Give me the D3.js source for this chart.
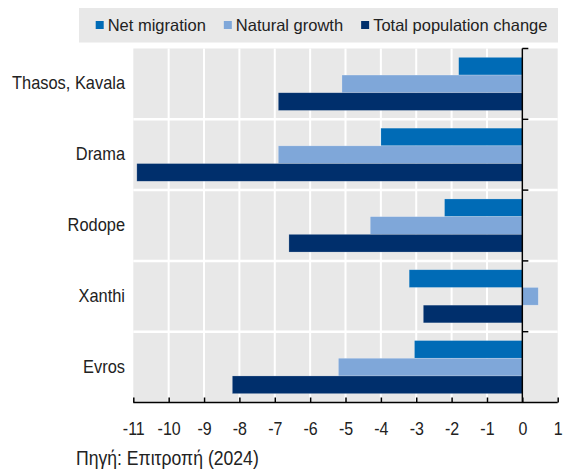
<!DOCTYPE html>
<html>
<head>
<meta charset="utf-8">
<script src="https://cdn.jsdelivr.net/npm/d3@7"></script>
<style>
  body { margin: 0; background: #fff; }
  svg text { fill: #222; font-family: "Liberation Sans", Arial, sans-serif; }
</style>
</head>
<body>
<svg id="chart" width="563" height="471"></svg>
<script>
// Data
const regions = ['Thasos, Kavala', 'Drama', 'Rodope', 'Xanthi', 'Evros'];
const seriesNames = ['Net migration', 'Natural growth', 'Total population change'];
const netMigration = [-1.8, -4.0, -2.2, -3.2, -3.05];
const naturalGrowth = [-5.1, -6.9, -4.3, 0.45, -5.2];
const totalChange = [-6.9, -10.9, -6.6, -2.8, -8.2];
const xTicks = [-11, -10, -9, -8, -7, -6, -5, -4, -3, -2, -1, 0, 1];
const sourceNote = 'Πηγή: Επιτροπή (2024)';

const colors = ['#006bb6', '#7fa7d9', '#002f6c'];
const stretch = 1.15; // labels in the reference are taller than wide

const rows = regions.map((r, i) => ({
  region: r,
  values: [netMigration[i], naturalGrowth[i], totalChange[i]]
}));

const svg = d3.select('#chart');

// Scales
const x = d3.scaleLinear().domain([-11, 1]).range([133.3, 557.7]);
const y0 = d3.scaleBand().domain(regions).range([48.5, 402.5]).padding(0);
const y1 = d3.scaleBand().domain(d3.range(seriesNames.length))
  .range([0, y0.bandwidth()]).paddingInner(0).paddingOuter(0.5);

// Plot background
svg.append('rect')
  .attr('x', x(-11)).attr('y', y0.range()[0])
  .attr('width', x(1) - x(-11)).attr('height', y0.range()[1] - y0.range()[0])
  .attr('fill', '#e8e8e8');

// Grid lines
svg.append('g')
  .selectAll('line')
  .data(xTicks.slice(1, -1))
  .join('line')
    .attr('x1', d => x(d)).attr('x2', d => x(d))
    .attr('y1', y0.range()[0]).attr('y2', y0.range()[1])
    .attr('stroke', '#fff').attr('stroke-width', 2);
svg.append('g')
  .selectAll('line')
  .data(regions.slice(1))
  .join('line')
    .attr('x1', x(-11)).attr('x2', x(1))
    .attr('y1', d => y0(d)).attr('y2', d => y0(d))
    .attr('stroke', '#fff').attr('stroke-width', 2.5);

// Bars
const groups = svg.append('g')
  .selectAll('g')
  .data(rows)
  .join('g')
    .attr('transform', d => `translate(0,${y0(d.region)})`);
groups.selectAll('rect')
  .data(d => d.values.map((v, i) => ({ v, i })))
  .join('rect')
    .attr('x', d => x(Math.min(0, d.v)))
    .attr('y', d => y1(d.i))
    .attr('width', d => Math.abs(x(d.v) - x(0)))
    .attr('height', y1.bandwidth())
    .attr('fill', d => colors[d.i])
    .attr('stroke', '#fff').attr('stroke-opacity', 0.35).attr('stroke-width', 0.6);

// Vertical axis at zero
svg.append('line')
  .attr('x1', x(0)).attr('x2', x(0))
  .attr('y1', y0.range()[0]).attr('y2', y0.range()[1])
  .attr('stroke', '#000').attr('stroke-width', 1.5);
svg.append('g')
  .selectAll('line')
  .data(regions)
  .join('line')
    .attr('x1', x(0)).attr('x2', x(0) + 6)
    .attr('y1', d => y0(d)).attr('y2', d => y0(d))
    .attr('stroke', '#000').attr('stroke-width', 1.5);

// Bottom axis
const xAxis = d3.axisBottom(x).tickValues(xTicks).tickSize(0).tickPadding(0)
  .tickFormat(d => String(d));
const axisG = svg.append('g')
  .attr('transform', `translate(0,${y0.range()[1]})`)
  .call(xAxis);
axisG.select('.domain').remove();
axisG.append('line')
  .attr('x1', x(-11)).attr('x2', x(1))
  .attr('stroke', '#000').attr('stroke-width', 1.5);
axisG.selectAll('.tick').append('line')
  .attr('y1', 0).attr('y2', -5)
  .attr('stroke', '#000').attr('stroke-width', 1.5);
axisG.selectAll('.tick text')
  .attr('y', 0)
  .attr('dy', 0)
  .attr('transform', `translate(0,32) scale(1,${stretch})`)
  .attr('fill', '#222')
  .style('font-size', '16px')
  .style('font-family', '"Liberation Sans", Arial, sans-serif');

// Region labels
svg.append('g')
  .selectAll('text')
  .data(regions)
  .join('text')
    .attr('transform', d => `translate(125,${y0(d) + y0.bandwidth() / 2 + 5.5}) scale(1,${stretch})`)
    .attr('text-anchor', 'end')
    .style('font-size', '16.4px')
    .text(d => d);

// Legend
svg.append('rect')
  .attr('x', 79).attr('y', 8)
  .attr('width', 479).attr('height', 34.5)
  .attr('fill', '#e8e8e8');
let lx = 95.7;
seriesNames.forEach((name, i) => {
  svg.append('rect')
    .attr('x', lx).attr('y', 21).attr('width', 8).attr('height', 8)
    .attr('fill', colors[i]);
  const t = svg.append('text')
    .attr('x', lx + 12).attr('y', 25).attr('dy', '0.35em')
    .style('font-size', '16.5px')
    .text(name);
  lx += 12 + t.node().getComputedTextLength() + 18;
});

// Source
svg.append('text')
  .attr('transform', `translate(76,465) scale(1,${stretch})`)
  .style('font-size', '17.6px')
  .text(sourceNote);
</script>
</body>
</html>
